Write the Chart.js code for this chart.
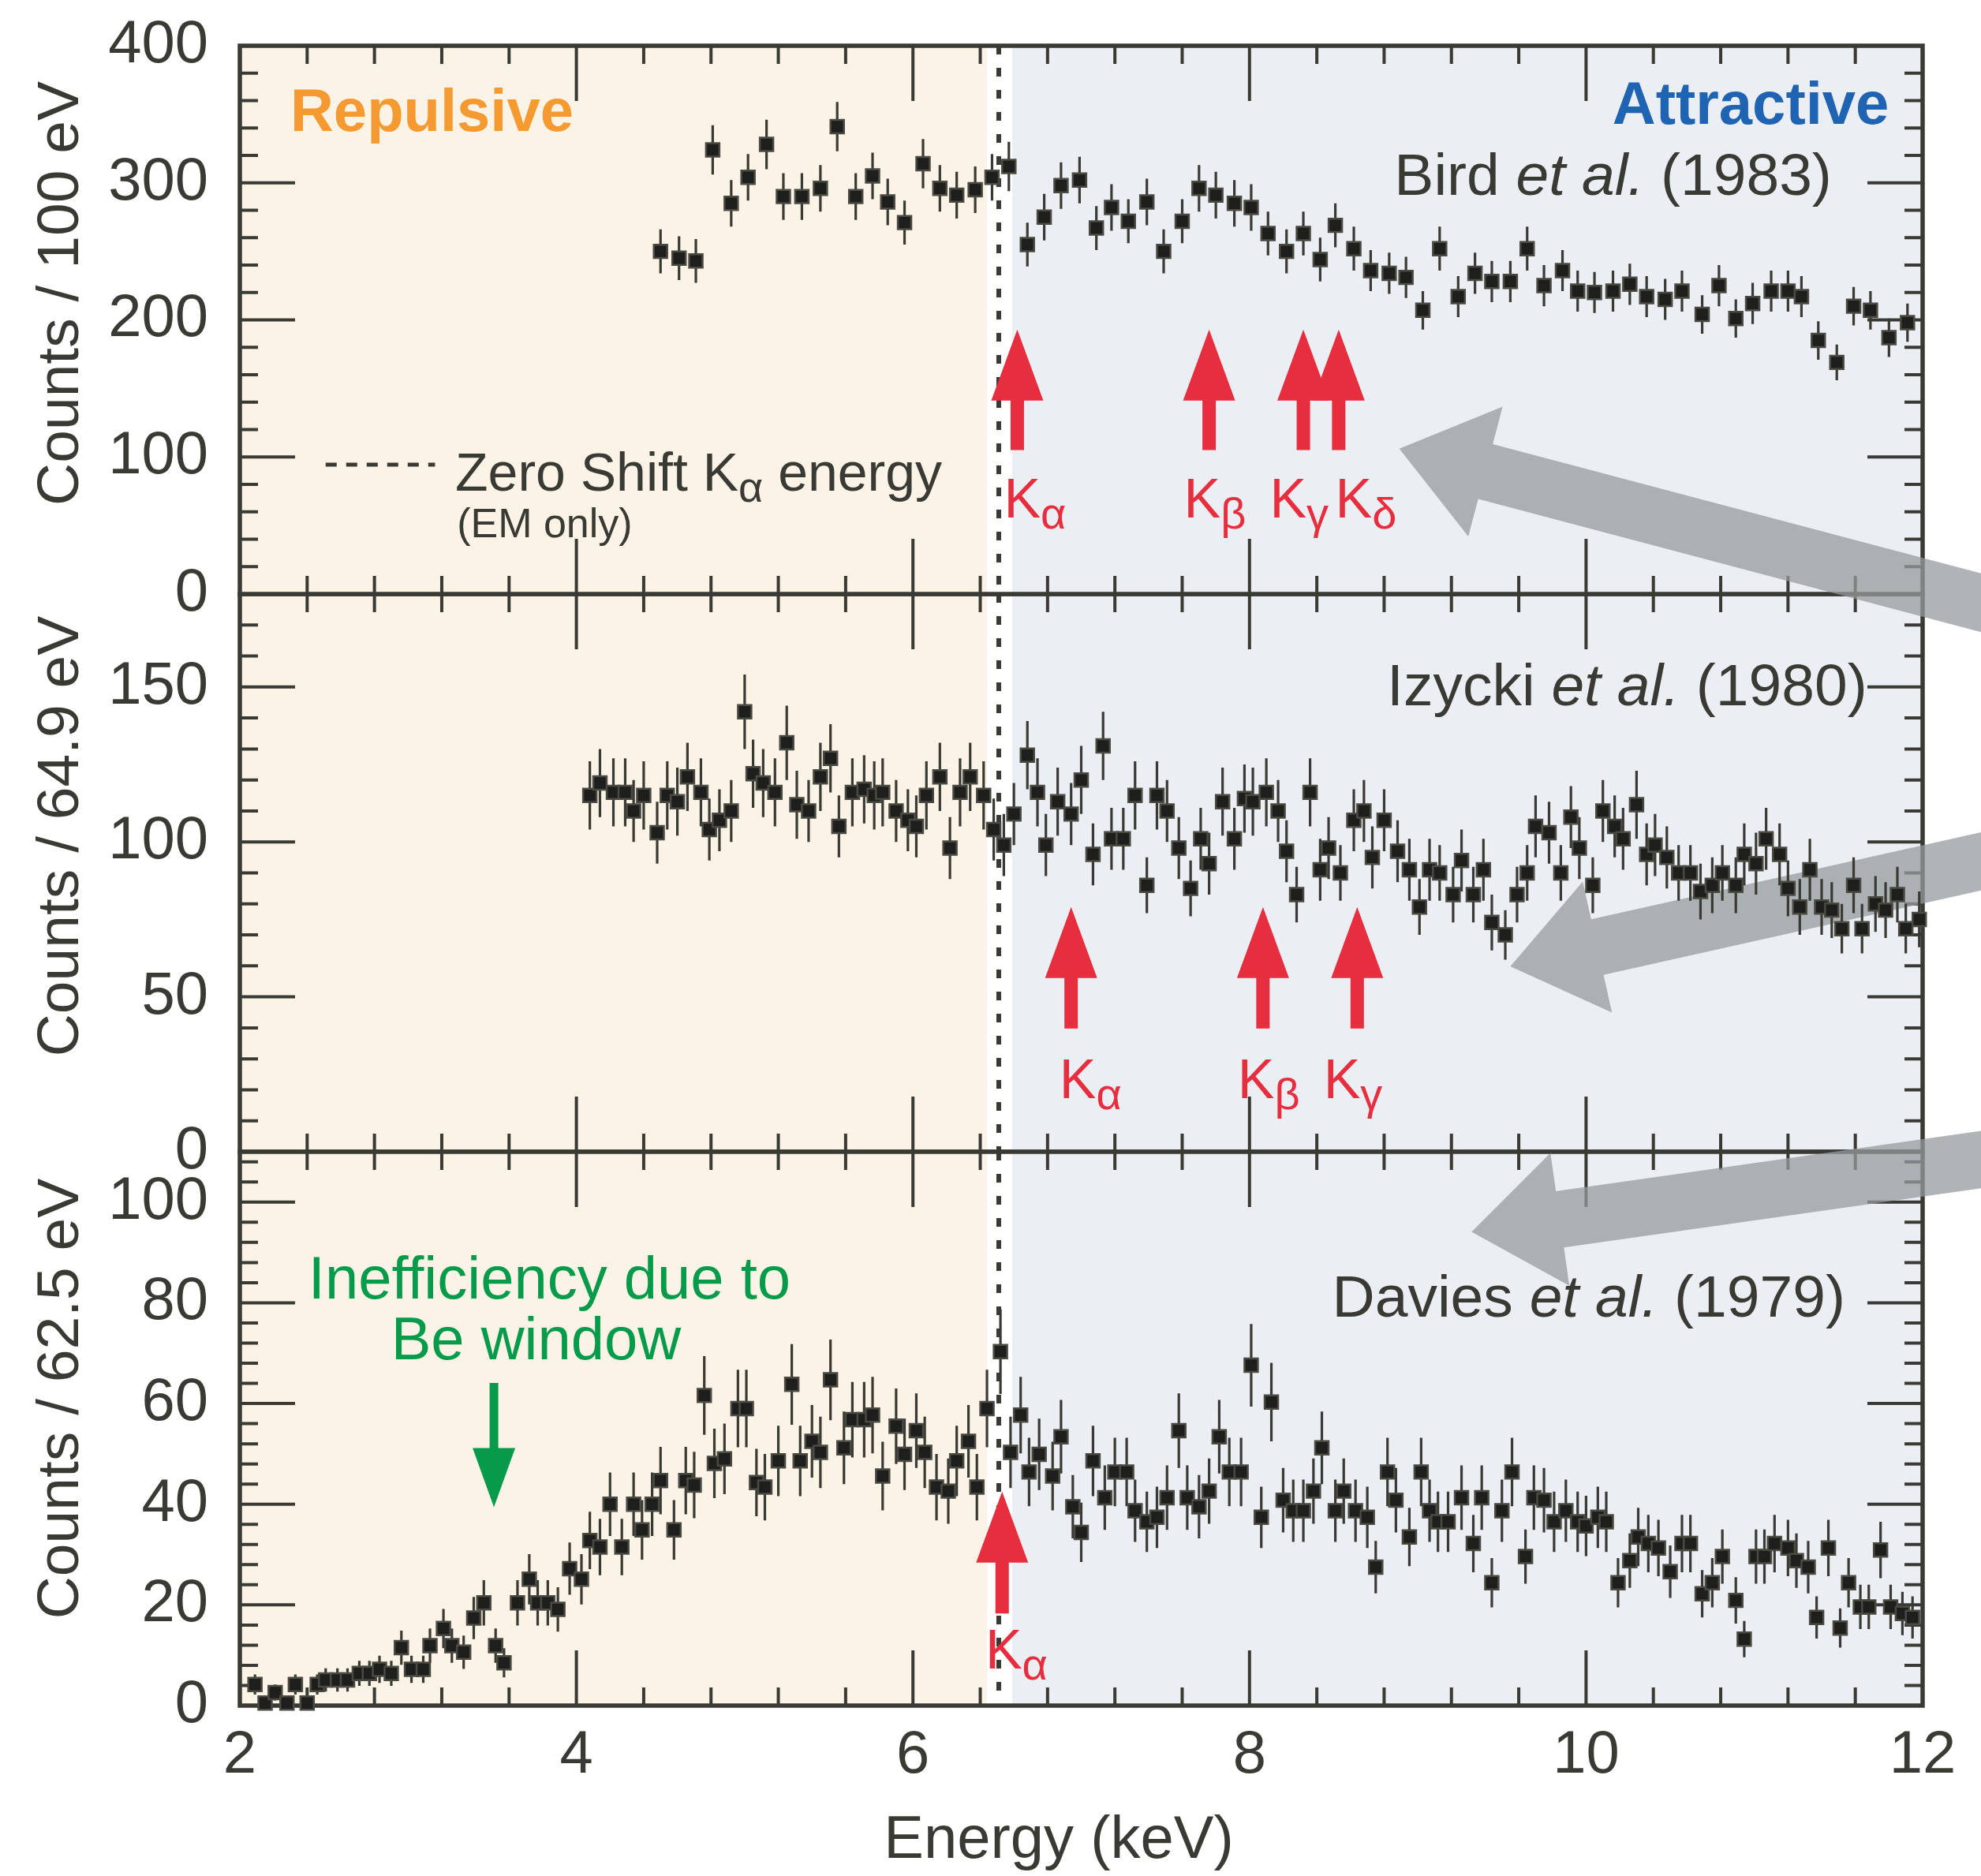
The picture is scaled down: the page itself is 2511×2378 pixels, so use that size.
<!DOCTYPE html>
<html lang="en">
<head>
<meta charset="utf-8">
<title>Kaonic hydrogen X-ray spectra</title>
<script src="https://cdn.jsdelivr.net/npm/chart.js@4.4.1/dist/chart.umd.min.js"></script>
<style>
  html, body { margin: 0; padding: 0; background: #fff; }
  #stage { position: relative; width: 2511px; height: 2378px; overflow: hidden; }
  #stage canvas { position: absolute; left: 0; top: 0; }
</style>
</head>
<body>
<div id="stage">
  <canvas id="izycki" width="2511" height="2378"></canvas>
  <canvas id="davies" width="2511" height="2378"></canvas>
  <canvas id="bird" width="2511" height="2378"></canvas>
</div>
<script>
// --- values ---
const energyTicks = [2, 4, 6, 8, 10, 12];

// Bird et al. (1983), counts / 100 eV
const birdTicks = [0, 100, 200, 300, 400];
const birdEnergy = [4.50, 4.61, 4.71, 4.81, 4.92, 5.02, 5.13, 5.23, 5.34, 5.45, 5.55, 5.66, 5.76, 5.85, 5.95, 6.06, 6.16, 6.26, 6.37, 6.47, 6.57, 6.68,
  6.78, 6.88, 6.99, 7.09, 7.18, 7.28, 7.39, 7.49, 7.60, 7.70, 7.80, 7.91, 8.01, 8.11, 8.22, 8.32, 8.42, 8.51, 8.62, 8.72, 8.83, 8.93, 9.03, 9.13, 9.24, 9.34,
  9.44, 9.55, 9.65, 9.75, 9.86, 9.95, 10.05, 10.16, 10.26, 10.36, 10.47, 10.57, 10.69, 10.79, 10.89, 10.99, 11.10, 11.20, 11.28, 11.38, 11.49, 11.59, 11.69, 11.80, 11.91];
const birdCounts = [250, 245, 243, 324, 285, 304, 328, 290, 290, 296, 341, 290, 305, 286, 271, 314, 296, 291, 295, 304, 312, 255,
  275, 298, 302, 267, 282, 272, 286, 250, 272, 296, 291, 285, 282, 263, 250, 263, 244, 269, 252, 236, 234, 231, 207, 252, 217, 234,
  228, 228, 252, 225, 236, 221, 220, 221, 226, 217, 215, 221, 204, 225, 201, 212, 221, 221, 217, 185, 169, 210, 207, 187, 198];
const birdErr = [16, 16, 16, 18, 17, 17, 18, 17, 17, 17, 18, 17, 17, 17, 16, 18, 17, 17, 17, 17, 18, 16,
  17, 17, 17, 16, 17, 16, 17, 16, 16, 17, 17, 17, 17, 16, 16, 16, 16, 16, 16, 15, 15, 15, 14, 16, 15, 15,
  15, 15, 16, 15, 15, 15, 15, 15, 15, 15, 15, 15, 14, 15, 14, 15, 15, 15, 15, 14, 13, 14, 14, 14, 14];

// Izycki et al. (1980), counts / 64.9 eV
const izyckiTicks = [0, 50, 100, 150];
const izyckiEnergy = [4.08, 4.14, 4.22, 4.29, 4.34, 4.40, 4.48, 4.54, 4.60, 4.66, 4.74, 4.79, 4.85, 4.92, 5.00, 5.05, 5.11, 5.18, 5.25, 5.31,
  5.38, 5.45, 5.51, 5.56, 5.64, 5.71, 5.77, 5.82, 5.90, 5.97, 6.02, 6.08, 6.16, 6.22, 6.28, 6.34, 6.42, 6.48, 6.54, 6.60, 6.68,
  6.74, 6.79, 6.86, 6.94, 7.00, 7.07, 7.13, 7.18, 7.25, 7.32, 7.39, 7.45, 7.51, 7.58, 7.65, 7.71, 7.76, 7.84, 7.91, 7.97,
  8.02, 8.10, 8.17, 8.22, 8.28, 8.36, 8.42, 8.47, 8.54, 8.62, 8.68, 8.73, 8.80, 8.88, 8.95, 9.01, 9.07, 9.13, 9.21, 9.26, 9.33,
  9.39, 9.44, 9.52, 9.59, 9.65, 9.70, 9.78, 9.85, 9.91, 9.96, 10.04, 10.10, 10.17, 10.22, 10.30, 10.36, 10.41, 10.48, 10.55, 10.62,
  10.68, 10.75, 10.81, 10.89, 10.94, 11.01, 11.07, 11.15, 11.20, 11.27, 11.33, 11.40, 11.46, 11.52, 11.59, 11.64, 11.72, 11.78, 11.85, 11.90, 11.98];
const izyckiCounts = [115, 119, 116, 116, 110, 115, 103, 115, 113, 121, 116, 104, 107, 110, 142, 122, 119, 116, 132, 112,
  110, 121, 127, 105, 116, 117, 115, 116, 110, 107, 105, 115, 121, 98, 116, 121, 115, 104, 99, 109, 128,
  116, 99, 113, 109, 120, 96, 131, 101, 101, 115, 86, 115, 110, 98, 85, 101, 93, 113, 101, 114,
  113, 116, 110, 97, 83, 116, 91, 98, 90, 107, 110, 95, 107, 97, 91, 79, 91, 90, 83, 94, 83,
  91, 74, 70, 83, 90, 105, 103, 90, 108, 98, 86, 110, 105, 101, 112, 96, 99, 95, 90, 90,
  84, 86, 90, 86, 96, 93, 101, 96, 85, 79, 91, 79, 78, 72, 86, 72, 80, 78, 83, 72, 75];
const izyckiErr = [11, 11, 11, 11, 10, 11, 10, 11, 11, 11, 11, 10, 10, 10, 12, 11, 11, 11, 12, 11,
  10, 11, 11, 10, 11, 11, 11, 11, 10, 10, 10, 11, 11, 10, 11, 11, 11, 10, 10, 10, 11,
  11, 10, 11, 10, 11, 10, 11, 10, 10, 11, 9, 11, 10, 10, 9, 10, 10, 11, 10, 11,
  11, 11, 10, 10, 9, 11, 10, 10, 9, 10, 10, 10, 10, 10, 10, 9, 10, 9, 9, 10, 9,
  10, 9, 8, 9, 9, 10, 10, 9, 10, 10, 9, 10, 10, 10, 11, 10, 10, 10, 9, 9,
  9, 9, 9, 9, 10, 10, 10, 10, 9, 9, 10, 9, 9, 8, 9, 8, 9, 9, 9, 8, 9];

// Davies et al. (1979), counts / 62.5 eV
const daviesTicks = [0, 20, 40, 60, 80, 100];
const daviesEnergy = [2.09, 2.15, 2.21, 2.28, 2.33, 2.40, 2.46, 2.51, 2.58, 2.64, 2.71, 2.77, 2.83, 2.90, 2.96, 3.02, 3.09, 3.13, 3.21, 3.26,
  3.33, 3.39, 3.45, 3.52, 3.57, 3.65, 3.72, 3.77, 3.83, 3.89, 3.96, 4.03, 4.08, 4.14, 4.20, 4.27, 4.34, 4.39, 4.45, 4.50,
  4.58, 4.65, 4.70, 4.76, 4.82, 4.88,
  4.96, 5.01, 5.07, 5.12, 5.20, 5.28, 5.33, 5.40, 5.45, 5.51, 5.59, 5.64, 5.71, 5.76, 5.82, 5.90, 5.95, 6.02, 6.07, 6.14,
  6.21, 6.26, 6.33, 6.38, 6.44, 6.52, 6.58, 6.64, 6.69, 6.75, 6.83, 6.88, 6.95, 7.00, 7.07, 7.14, 7.20, 7.27, 7.32, 7.39,
  7.45, 7.51, 7.58,
  7.63, 7.70, 7.76, 7.82, 7.88, 7.95, 8.01, 8.07, 8.13, 8.20, 8.26, 8.32, 8.38, 8.43, 8.51, 8.56, 8.63, 8.70, 8.75, 8.82,
  8.87, 8.95, 9.02, 9.07, 9.12, 9.18, 9.26, 9.33, 9.38, 9.44, 9.50, 9.56,
  9.64, 9.69, 9.75, 9.81, 9.88, 9.95, 10.00, 10.07, 10.12, 10.19, 10.26, 10.31, 10.37, 10.43, 10.50, 10.57, 10.62, 10.69, 10.75, 10.81,
  10.89, 10.94, 11.01, 11.06, 11.12, 11.20, 11.25, 11.32, 11.37, 11.44, 11.51, 11.56, 11.63, 11.68, 11.75, 11.81, 11.88, 11.94];
const daviesCounts = [4.2, 0.5, 2.6, 0.5, 4.2, 0.5, 4.2, 5.1, 5.1, 5.1, 6.4, 6.4, 7.2, 6.4, 11.5, 7.2, 7.2, 11.9, 15.3, 11.9,
  10.6, 17.4, 20.4, 11.9, 8.5, 20.4, 25.1, 20.4, 20.4, 19.1, 27.2, 25.1, 32.8, 31.5, 40.0, 31.5, 40.0, 34.9, 40.0, 44.7,
  34.9, 44.7, 43.8, 61.6, 48.1, 49.0,
  59, 59, 44.3, 43.4, 48.6, 63.8, 48.6, 52.5, 50.3, 64.7, 51.2, 56.8, 56.8, 57.7, 45.6, 55.5, 49.9, 54.6, 50.3, 43.4,
  42.6, 48.6, 52.5, 43.4, 59, 70.3, 50.3, 57.7, 46.4, 49.9, 45.6, 53.4, 39.5, 34.4, 48.6, 41.3, 46.4, 46.4, 38.7, 36.5,
  37.4, 41.3, 54.6,
  41.3, 39.5, 42.6, 53.4, 46.4, 46.4, 67.6, 37.4, 60.3, 40.8, 38.7, 38.7, 42.6, 51.2, 38.7, 42.6, 38.7, 37.4, 27.5, 46.4,
  40.8, 33.5, 46.4, 38.7, 36.5, 36.5, 41.3, 32.2, 41.3, 24.4, 38.7, 46.4,
  29.6, 41.3, 40.8, 36.5, 38.7, 36.5, 35.7, 37.4, 36.5, 24.4, 28.8, 33.5, 32.2, 31.3, 26.6, 32.2, 32.2, 22.2, 24.4, 29.6,
  20.9, 13.2, 29.6, 29.6, 32.2, 31.3, 28.8, 27.5, 17.5, 31.3, 15.4, 24.4, 19.6, 19.6, 30.9, 19.6, 18.3, 17.5];
const daviesErr = [2.0, 1.0, 1.6, 1.0, 2.0, 1.0, 2.0, 2.3, 2.3, 2.3, 2.5, 2.5, 2.7, 2.5, 3.4, 2.7, 2.7, 3.4, 3.9, 3.4,
  3.3, 4.2, 4.5, 3.4, 2.9, 4.5, 5.0, 4.5, 4.5, 4.4, 5.2, 5.0, 5.7, 5.6, 6.3, 5.6, 6.3, 5.9, 6.3, 6.7,
  5.9, 6.7, 6.6, 7.8, 6.9, 7.0,
  7.7, 7.7, 6.7, 6.6, 7.0, 8.0, 7.0, 7.2, 7.1, 8.0, 7.2, 7.5, 7.5, 7.6, 6.8, 7.5, 7.1, 7.4, 7.1, 6.6,
  6.5, 7.0, 7.2, 6.6, 7.7, 8.4, 7.1, 7.6, 6.8, 7.1, 6.8, 7.3, 6.3, 5.9, 7.0, 6.4, 6.8, 6.8, 6.2, 6.0,
  6.1, 6.4, 7.4,
  6.4, 6.3, 6.5, 7.3, 6.8, 6.8, 8.2, 6.1, 7.8, 6.4, 6.2, 6.2, 6.5, 7.2, 6.2, 6.5, 6.2, 6.1, 5.2, 6.8,
  6.4, 5.8, 6.8, 6.2, 6.0, 6.0, 6.4, 5.7, 6.4, 4.9, 6.2, 6.8,
  5.4, 6.4, 6.4, 6.0, 6.2, 6.0, 6.0, 6.1, 6.0, 4.9, 5.4, 5.8, 5.7, 5.6, 5.2, 5.7, 5.7, 4.7, 4.9, 5.4,
  4.6, 3.6, 5.4, 5.4, 5.7, 5.6, 5.4, 5.2, 4.2, 5.6, 3.9, 4.9, 4.4, 4.4, 5.6, 4.4, 4.3, 4.2];

// K-series line arrows (keV) and where each label starts
const birdLines = [6.62, 7.76, 8.32, 8.53];
const birdLabelX = [6.54, 7.61, 8.12, 8.51];
const izyckiLines = [6.94, 8.08, 8.64];
const izyckiLabelX = [6.87, 7.93, 8.44];
const daviesLines = [6.53];
const daviesLabelX = [6.43];

const repulsiveEnd = 6.44;
const attractiveStart = 6.59;
const zeroShiftK = 6.51;

// --- look ---
const FONT = '"Liberation Sans", Arial, Helvetica, sans-serif';
const ink = '#3a3a34';
const beige = '#fbf3e6';
const slate = '#ebeef3';
const red = '#e72e3f';
const green = '#069a4b';
const orange = '#f59a30';
const blue = '#1f63b3';

const W = 2511, H = 2378;
const plotLeft = 304, plotRight = 2437;

const panels = {
  bird: {
    energy: birdEnergy, counts: birdCounts, err: birdErr, ticks: birdTicks,
    yMax: 400, minor: 20, top: 58, bottom: 753,
    title: 'Counts / 100 eV', titleY: 372,
    cite: ['Bird ', 'et al.', ' (1983)'], citeAt: [11.46, 291],
    lines: birdLines, labelX: birdLabelX, greek: ['α', 'β', 'γ', 'δ'],
    arrowSpan: [105, 193], labelY: 56,
    pointer: [12.8, -21, 8.89, 106]
  },
  izycki: {
    energy: izyckiEnergy, counts: izyckiCounts, err: izyckiErr, ticks: izyckiTicks,
    yMax: 180, minor: 10, top: 753, bottom: 1460,
    title: 'Counts / 64.9 eV', titleY: 1060,
    cite: ['Izycki ', 'et al.', ' (1980)'], citeAt: [11.67, 144],
    lines: izyckiLines, labelX: izyckiLabelX, greek: ['α', 'β', 'γ'],
    arrowSpan: [39.8, 79], labelY: 17.3,
    pointer: [12.8, 99.2, 9.55, 59.8]
  },
  davies: {
    energy: daviesEnergy, counts: daviesCounts, err: daviesErr, ticks: daviesTicks,
    yMax: 110, minor: 4, top: 1460, bottom: 2162,
    title: 'Counts / 62.5 eV', titleY: 1773,
    cite: ['Davies ', 'et al.', ' (1979)'], citeAt: [11.54, 77.3],
    lines: daviesLines, labelX: daviesLabelX, greek: ['α'],
    arrowSpan: [18.3, 42.5], labelY: 7.3,
    pointer: [12.8, 110.6, 9.32, 94.1]
  }
};

function arrow(ctx, x0, y0, x1, y1, shaft, headL, headW) {
  const len = Math.hypot(x1 - x0, y1 - y0);
  const ux = (x1 - x0) / len, uy = (y1 - y0) / len;
  const nx = -uy, ny = ux;
  const bx = x1 - ux * headL, by = y1 - uy * headL;
  ctx.beginPath();
  ctx.moveTo(x0 + nx * shaft / 2, y0 + ny * shaft / 2);
  ctx.lineTo(bx + nx * shaft / 2, by + ny * shaft / 2);
  ctx.lineTo(bx + nx * headW / 2, by + ny * headW / 2);
  ctx.lineTo(x1, y1);
  ctx.lineTo(bx - nx * headW / 2, by - ny * headW / 2);
  ctx.lineTo(bx - nx * shaft / 2, by - ny * shaft / 2);
  ctx.lineTo(x0 - nx * shaft / 2, y0 - ny * shaft / 2);
  ctx.closePath();
  ctx.fill();
}

// "K" with a greek subscript, returns the width used
function kLabel(ctx, x, y, greek, size) {
  ctx.textAlign = 'left';
  ctx.textBaseline = 'alphabetic';
  ctx.font = `${size}px ${FONT}`;
  ctx.fillText('K', x, y);
  const wk = ctx.measureText('K').width;
  ctx.font = `${Math.round(size * 0.8)}px ${FONT}`;
  ctx.fillText(greek, x + wk, y + size * 0.2);
  return wk + ctx.measureText(greek).width;
}

function citation(ctx, parts, xRight, y, size) {
  const fonts = parts.map((t, i) => `${i === 1 ? 'italic ' : ''}${size}px ${FONT}`);
  const widths = parts.map((t, i) => { ctx.font = fonts[i]; return ctx.measureText(t).width; });
  let x = xRight - widths.reduce((a, b) => a + b, 0);
  ctx.textAlign = 'left';
  ctx.textBaseline = 'alphabetic';
  parts.forEach((t, i) => { ctx.font = fonts[i]; ctx.fillText(t, x, y); x += widths[i]; });
}

function drawFrame(ctx, a, xs, ys, p) {
  ctx.strokeStyle = ink;
  ctx.lineWidth = 4;
  ctx.beginPath();
  for (let i = 0; i <= 25; i++) {
    const px = xs.getPixelForValue(2 + i * 0.4);
    const len = i % 5 === 0 ? 70 : 23;
    ctx.moveTo(px, a.top); ctx.lineTo(px, a.top + len);
    ctx.moveTo(px, a.bottom); ctx.lineTo(px, a.bottom - len);
  }
  const n = Math.floor(p.yMax / p.minor + 1e-9);
  for (let i = 0; i <= n; i++) {
    const v = i * p.minor;
    const py = ys.getPixelForValue(v);
    const len = p.ticks.includes(v) ? 70 : 23;
    ctx.moveTo(a.left, py); ctx.lineTo(a.left + len, py);
    ctx.moveTo(a.right, py); ctx.lineTo(a.right - len, py);
  }
  ctx.stroke();
  ctx.lineWidth = 5.5;
  ctx.strokeRect(a.left, a.top, a.right - a.left, a.bottom - a.top);
}

const decor = {
  id: 'decor',
  beforeDatasetsDraw(chart) {
    const p = panels[chart.canvas.id];
    const { ctx, chartArea: a } = chart;
    const xs = chart.scales.x, ys = chart.scales.y;
    ctx.save();

    // repulsive / attractive shading
    const xr = xs.getPixelForValue(repulsiveEnd), xa = xs.getPixelForValue(attractiveStart);
    ctx.fillStyle = beige; ctx.fillRect(a.left, a.top, xr - a.left, a.bottom - a.top);
    ctx.fillStyle = '#ffffff'; ctx.fillRect(xr, a.top, xa - xr, a.bottom - a.top);
    ctx.fillStyle = slate; ctx.fillRect(xa, a.top, a.right - xa, a.bottom - a.top);

    // zero shift K-alpha energy
    const xz = xs.getPixelForValue(zeroShiftK);
    ctx.strokeStyle = ink; ctx.lineWidth = 6; ctx.setLineDash([11, 17]);
    ctx.beginPath(); ctx.moveTo(xz, a.top); ctx.lineTo(xz, a.bottom); ctx.stroke();
    ctx.setLineDash([]);

    drawFrame(ctx, a, xs, ys, p);

    // big grey pointer coming in from the right
    const [e0, v0, e1, v1] = p.pointer;
    ctx.fillStyle = 'rgba(150,155,158,0.75)';
    arrow(ctx, xs.getPixelForValue(e0), ys.getPixelForValue(v0), xs.getPixelForValue(e1), ys.getPixelForValue(v1), 72, 113, 170);

    // error bars
    ctx.strokeStyle = ink; ctx.lineWidth = 3.2;
    ctx.beginPath();
    p.energy.forEach((e, i) => {
      const x = xs.getPixelForValue(e);
      ctx.moveTo(x, ys.getPixelForValue(p.counts[i] + p.err[i]));
      ctx.lineTo(x, ys.getPixelForValue(Math.max(0, p.counts[i] - p.err[i])));
    });
    ctx.stroke();
    ctx.restore();
  },
  afterDatasetsDraw(chart) {
    const id = chart.canvas.id;
    const p = panels[id];
    const ctx = chart.ctx;
    const xs = chart.scales.x, ys = chart.scales.y;
    const px = v => xs.getPixelForValue(v), py = v => ys.getPixelForValue(v);
    ctx.save();

    ctx.fillStyle = red;
    p.lines.forEach((e, i) => {
      arrow(ctx, px(e), py(p.arrowSpan[0]), px(e), py(p.arrowSpan[1]), 17, 90, 66);
      kLabel(ctx, px(p.labelX[i]), py(p.labelY), p.greek[i], 70);
    });

    ctx.fillStyle = ink;
    citation(ctx, p.cite, px(p.citeAt[0]), py(p.citeAt[1]), 75);

    if (id === 'bird') {
      ctx.textBaseline = 'alphabetic';
      ctx.font = `bold 76px ${FONT}`;
      ctx.fillStyle = orange; ctx.textAlign = 'left';
      ctx.fillText('Repulsive', px(2.30), py(338));
      ctx.fillStyle = blue; ctx.textAlign = 'right';
      ctx.fillText('Attractive', px(11.80), py(343));

      // legend for the dotted line
      ctx.strokeStyle = ink; ctx.lineWidth = 5; ctx.setLineDash([14, 12]);
      ctx.beginPath(); ctx.moveTo(px(2.51), py(94.4)); ctx.lineTo(px(3.16), py(94.4)); ctx.stroke();
      ctx.setLineDash([]);
      ctx.fillStyle = ink; ctx.textAlign = 'left';
      ctx.font = `68px ${FONT}`;
      let x = px(3.28);
      const yb = py(75.4);
      ctx.fillText('Zero Shift ', x, yb);
      x += ctx.measureText('Zero Shift ').width;
      x += kLabel(ctx, x, yb, 'α', 68);
      ctx.font = `68px ${FONT}`;
      ctx.fillText(' energy', x, yb);
      ctx.font = `52px ${FONT}`;
      ctx.fillText('(EM only)', px(3.29), py(41.4));
    }

    if (id === 'davies') {
      ctx.fillStyle = green;
      arrow(ctx, px(3.51), py(64.1), px(3.51), py(39.4), 11, 75, 54);
      ctx.font = `76px ${FONT}`;
      ctx.textAlign = 'center'; ctx.textBaseline = 'alphabetic';
      ctx.fillText('Inefficiency due to', px(3.84), py(80.9));
      ctx.fillText('Be window', px(3.76), py(68.8));
    }
    ctx.restore();
  },
  afterDraw(chart) {
    const p = panels[chart.canvas.id];
    const ctx = chart.ctx;
    ctx.save();
    ctx.fillStyle = ink;
    ctx.font = `75px ${FONT}`;
    ctx.textAlign = 'center';
    ctx.textBaseline = 'alphabetic';
    ctx.translate(99, p.titleY);
    ctx.rotate(-Math.PI / 2);
    ctx.fillText(p.title, 0, 0);
    ctx.restore();
    if (chart.canvas.id === 'davies') {
      ctx.save();
      ctx.fillStyle = ink;
      ctx.font = `76px ${FONT}`;
      ctx.textAlign = 'center';
      ctx.textBaseline = 'alphabetic';
      ctx.fillText('Energy (keV)', 1342, 2355);
      ctx.restore();
    }
  }
};

function buildPanel(id) {
  const p = panels[id];
  const showX = id === 'davies';
  const xAxis = {
    type: 'linear', min: 2, max: 12, display: showX,
    grid: { display: false, drawTicks: false },
    border: { display: false },
    afterBuildTicks: s => { s.ticks = energyTicks.map(v => ({ value: v })); },
    ticks: { padding: 18, color: ink, font: { family: FONT, size: 76 }, maxRotation: 0, autoSkip: false }
  };
  if (showX) xAxis.afterFit = s => { s.height = H - p.bottom; s.paddingLeft = 0; s.paddingRight = 0; };

  return new Chart(document.getElementById(id), {
    type: 'scatter',
    data: {
      datasets: [{
        data: p.energy.map((e, i) => ({ x: e, y: p.counts[i] })),
        pointStyle: 'rect',
        pointRadius: 12,
        pointBackgroundColor: '#1e1e1c',
        pointBorderColor: '#4a4a43',
        pointBorderWidth: 2.5,
        clip: false
      }]
    },
    options: {
      responsive: false,
      animation: false,
      devicePixelRatio: 1,
      events: [],
      layout: { padding: { left: 0, right: W - plotRight, top: p.top, bottom: showX ? 0 : H - p.bottom } },
      scales: {
        x: xAxis,
        y: {
          type: 'linear', min: 0, max: p.yMax,
          grid: { display: false, drawTicks: false },
          border: { display: false },
          // fixed plot box: no extra room for the end labels
          afterFit: s => { s.width = plotLeft; s.paddingTop = 0; s.paddingBottom = 0; },
          afterBuildTicks: s => { s.ticks = p.ticks.map(v => ({ value: v })); },
          ticks: { padding: 40, color: ink, font: { family: FONT, size: 76 } }
        }
      },
      plugins: { legend: { display: false }, tooltip: { enabled: false } }
    },
    plugins: [decor]
  });
}

['izycki', 'davies', 'bird'].forEach(buildPanel);
</script>
</body>
</html>
